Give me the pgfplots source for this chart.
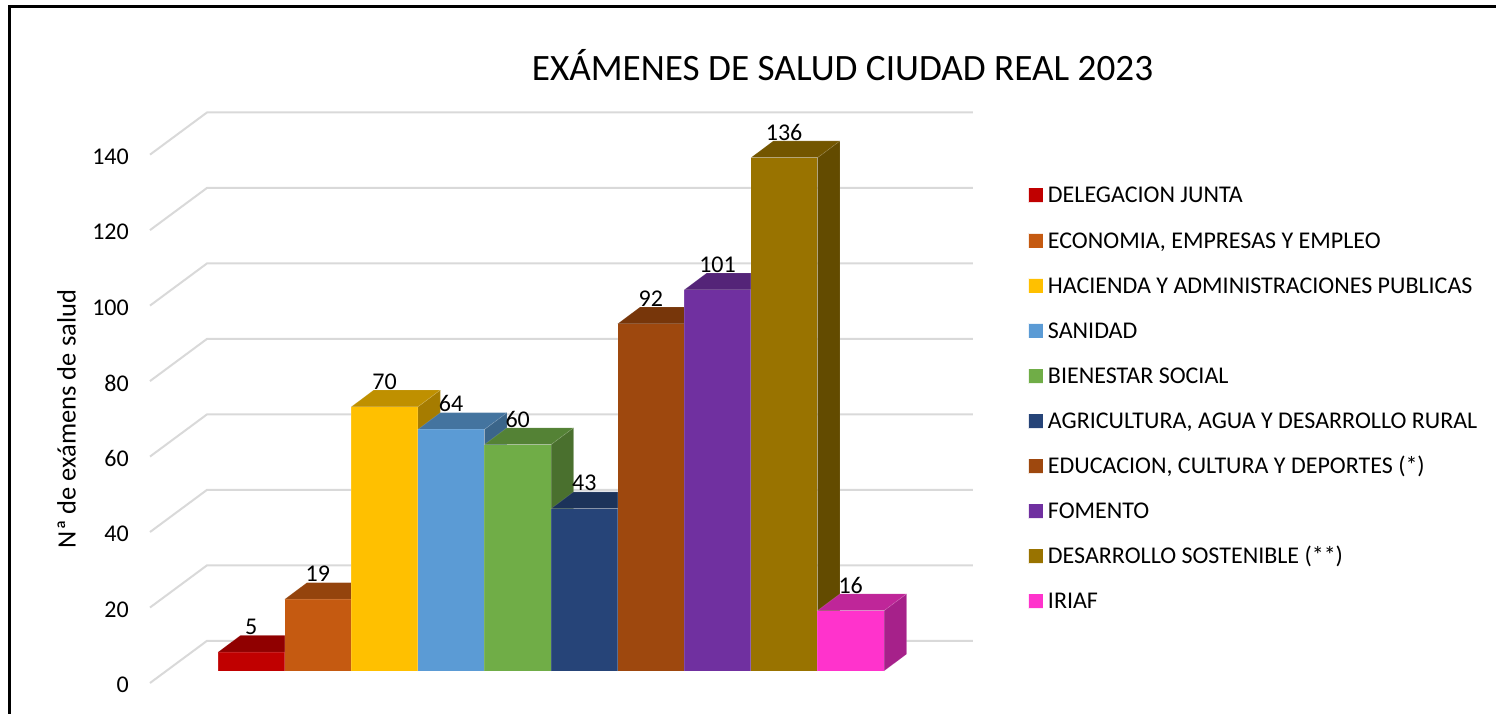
\documentclass[border=0pt]{standalone}
\usepackage{fontspec}
\setmainfont{Carlito}
\usepackage{pgfplots}
\pgfplotsset{compat=1.18}
\definecolor{f1}{HTML}{C00000}\definecolor{t1}{HTML}{900000}\definecolor{s1}{HTML}{7D0000}
\definecolor{f2}{HTML}{C55A11}\definecolor{t2}{HTML}{94440D}\definecolor{s2}{HTML}{803A0B}
\definecolor{f3}{HTML}{FFC000}\definecolor{t3}{HTML}{BF9000}\definecolor{s3}{HTML}{A67C00}
\definecolor{f4}{HTML}{5B9BD5}\definecolor{t4}{HTML}{44749F}\definecolor{s4}{HTML}{3B658A}
\definecolor{f5}{HTML}{70AD47}\definecolor{t5}{HTML}{548235}\definecolor{s5}{HTML}{4A702E}
\definecolor{f6}{HTML}{264478}\definecolor{t6}{HTML}{1C335A}\definecolor{s6}{HTML}{192C4E}
\definecolor{f7}{HTML}{9E480E}\definecolor{t7}{HTML}{77360A}\definecolor{s7}{HTML}{672F09}
\definecolor{f8}{HTML}{7030A0}\definecolor{t8}{HTML}{542478}\definecolor{s8}{HTML}{491F68}
\definecolor{f9}{HTML}{997300}\definecolor{t9}{HTML}{735600}\definecolor{s9}{HTML}{634B00}
\definecolor{f10}{HTML}{FF33CC}\definecolor{t10}{HTML}{BF2699}\definecolor{s10}{HTML}{A6218A}
\definecolor{gridc}{HTML}{D9D9D9}
% #1 position, #2 value, #3 colour index, #4 legend text
\newcommand{\cdbar}[4]{%
  \pgfmathsetmacro{\xa}{#1-0.5}\pgfmathsetmacro{\xb}{#1+0.5}%
  \pgfmathsetmacro{\xc}{#1+0.5+0.338}\pgfmathsetmacro{\xd}{#1-0.5+0.338}%
  \pgfmathsetmacro{\yt}{#2+4.45}%
  \addplot[fill=s#3,draw=white,draw opacity=0.12,line width=0.7pt,forget plot]
    coordinates {(\xb,0) (\xc,4.45) (\xc,\yt) (\xb,#2)} --cycle;
  \addplot[fill=t#3,draw=white,draw opacity=0.12,line width=0.7pt,forget plot]
    coordinates {(\xa,#2) (\xb,#2) (\xc,\yt) (\xd,\yt)} --cycle;
  \addplot[ybar,bar width=66.6pt,bar shift=0pt,fill=f#3,draw=white,draw opacity=0.12,line width=0.7pt,
    nodes near coords,
    every node near coord/.append style={anchor=center,yshift=25.5pt,font=\fontsize{24}{28}\selectfont,text=black},
    legend image code/.code={\fill[f#3] (0pt,-7pt) rectangle (14pt,7pt);}]
    coordinates {(#1,#2)};
  \addlegendentry{#4}%
}
\begin{document}
\begin{tikzpicture}
\path[use as bounding box] (0,0) rectangle (1496pt,714pt);
\begin{axis}[
  at={(0,0)},anchor=south west,
  scale only axis,width=1496pt,height=714pt,
  xmin=-2.773,xmax=19.689,ymin=-11.39,ymax=177.8,
  axis line style={draw=none},
  xtick=\empty,
  ytick={0,20,40,60,80,100,120,140},
  tick style={draw=none},
  /pgf/number format/assume math mode=true,
  yticklabel style={font=\fontsize{24}{28}\selectfont,anchor=east,inner sep=0pt,xshift=129pt,yshift=-14pt},
  ylabel={Nª de exámens de salud},
  every axis y label/.style={at={(rel axis cs:0.0445,0.4132)},rotate=90,anchor=center,font=\fontsize{26.5}{30}\selectfont},
  title={EXÁMENES DE SALUD CIUDAD REAL 2023},
  every axis title/.style={at={(rel axis cs:0.5632,0.909)},anchor=center,font=\fontsize{37.2}{44}\selectfont},
  legend cell align=left,
  legend style={draw=none,fill=none,at={(rel axis cs:0.6872,0.7370)},anchor=north west,inner sep=0pt,
    row sep=30.1pt,column sep=5pt,font=\fontsize{24}{28}\selectfont,
    nodes={inner sep=0pt,text height=15pt,text depth=0pt}},
]
% wall gridlines
\addplot[gridc,line width=2pt,forget plot] coordinates {(-0.521,-3.18)(0.335,8)(11.836,8)};
\addplot[gridc,line width=2pt,forget plot] coordinates {(-0.521,16.82)(0.335,28)(11.836,28)};
\addplot[gridc,line width=2pt,forget plot] coordinates {(-0.521,36.82)(0.335,48)(11.836,48)};
\addplot[gridc,line width=2pt,forget plot] coordinates {(-0.521,56.82)(0.335,68)(11.836,68)};
\addplot[gridc,line width=2pt,forget plot] coordinates {(-0.521,76.82)(0.335,88)(11.836,88)};
\addplot[gridc,line width=2pt,forget plot] coordinates {(-0.521,96.82)(0.335,108)(11.836,108)};
\addplot[gridc,line width=2pt,forget plot] coordinates {(-0.521,116.82)(0.335,128)(11.836,128)};
\addplot[gridc,line width=2pt,forget plot] coordinates {(-0.521,136.82)(0.335,148)(11.836,148)};
% bars
\cdbar{1}{5}{1}{DELEGACION JUNTA}
\cdbar{2}{19}{2}{ECONOMIA, EMPRESAS Y EMPLEO}
\cdbar{3}{70}{3}{HACIENDA Y ADMINISTRACIONES PUBLICAS}
\cdbar{4}{64}{4}{SANIDAD}
\cdbar{5}{60}{5}{BIENESTAR SOCIAL}
\cdbar{6}{43}{6}{AGRICULTURA, AGUA Y DESARROLLO RURAL}
\cdbar{7}{92}{7}{EDUCACION, CULTURA Y DEPORTES (*)}
\cdbar{8}{101}{8}{FOMENTO}
\cdbar{9}{136}{9}{DESARROLLO SOSTENIBLE (**)}
\cdbar{10}{16}{10}{IRIAF}
% outer frame
\addplot[black,line width=2.6pt,forget plot] coordinates {(-2.63,-20)(-2.63,176.1)(25,176.1)};
\end{axis}
\end{tikzpicture}
\end{document}
